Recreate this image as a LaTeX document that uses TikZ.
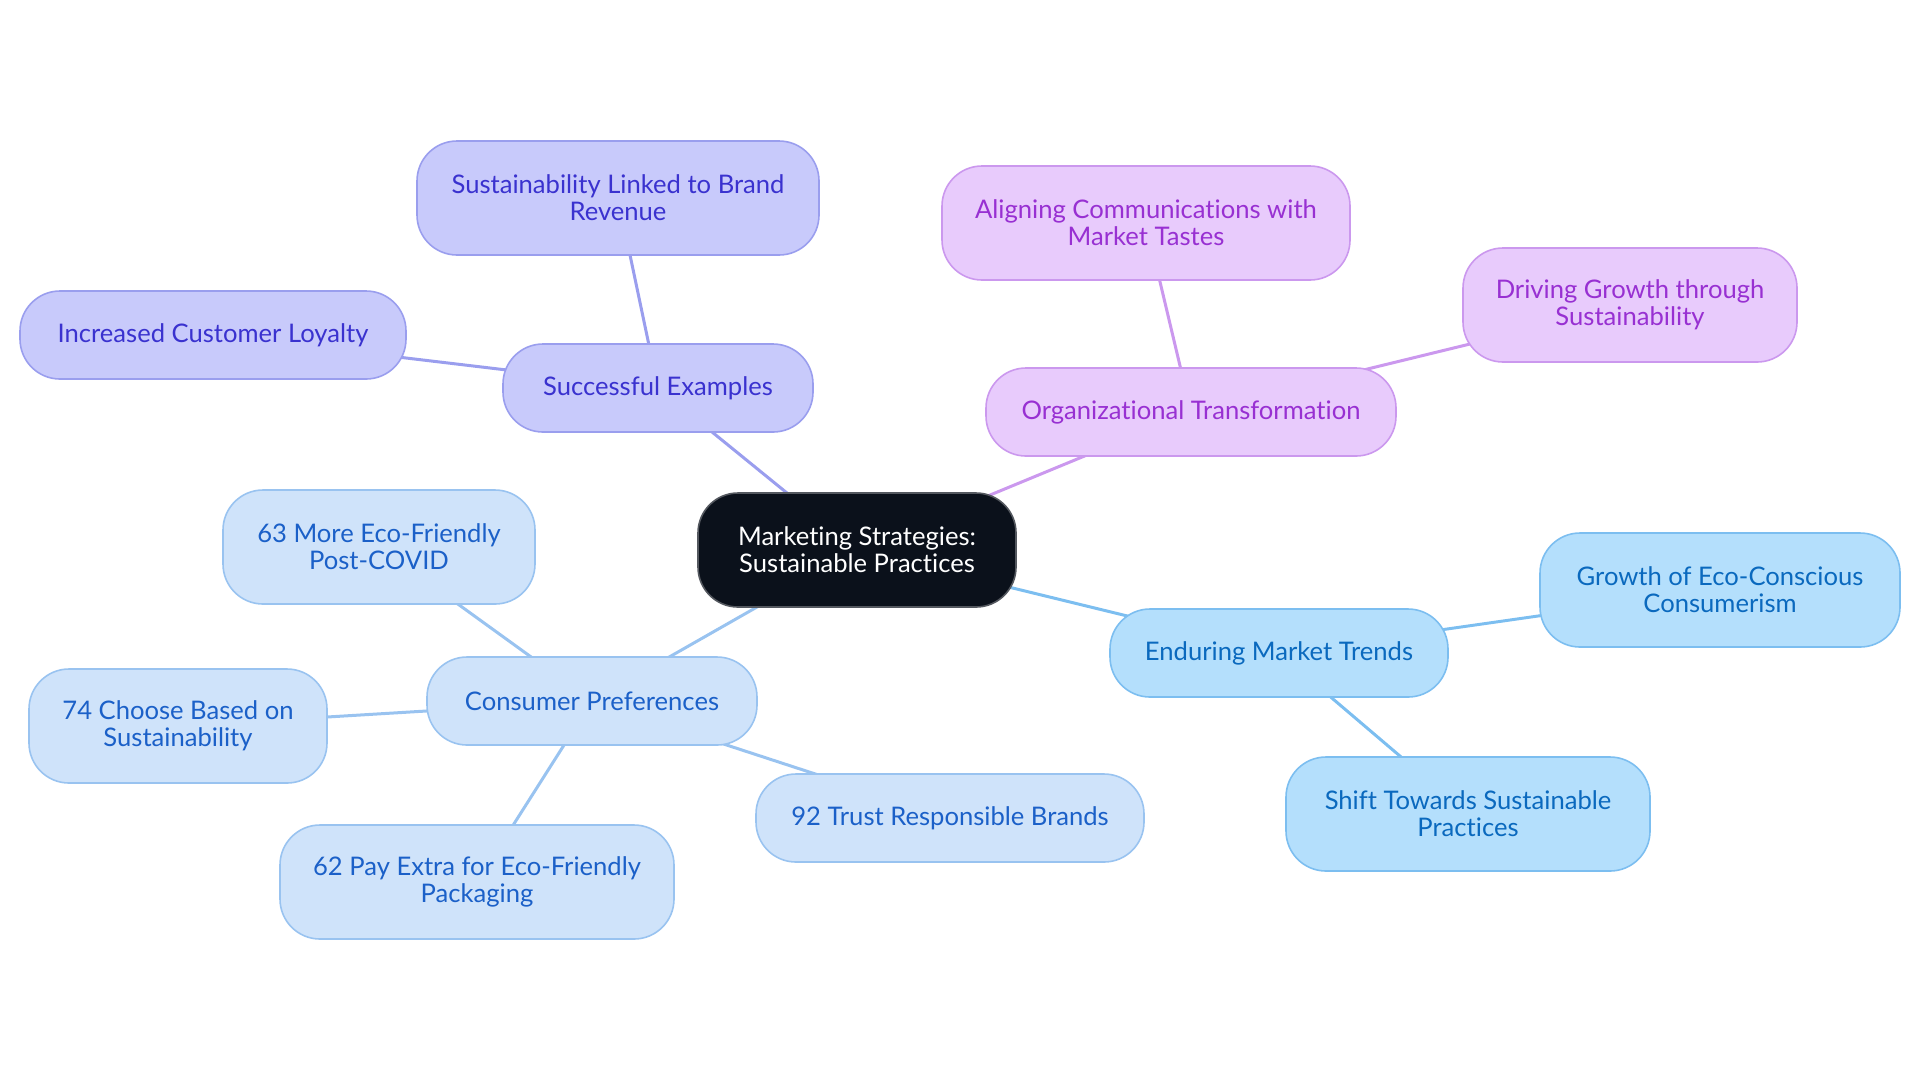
\documentclass[tikz,border=0pt]{standalone}
\usepackage{fontspec}
\setmainfont{Lato}[Ligatures={NoCommon}]
\usetikzlibrary{backgrounds}

\definecolor{rootfill}{HTML}{0B111B}
\definecolor{sucfill}{HTML}{C8CAFB}
\definecolor{sucline}{HTML}{9A9EEE}
\definecolor{suctext}{HTML}{3A32CF}
\definecolor{orgfill}{HTML}{E8CBFC}
\definecolor{orgline}{HTML}{CB98EE}
\definecolor{orgtext}{HTML}{9830D2}
\definecolor{endfill}{HTML}{B4DFFC}
\definecolor{endline}{HTML}{7CBEF0}
\definecolor{endtext}{HTML}{0A69BE}
\definecolor{conpfill}{HTML}{CFE3FA}
\definecolor{conpline}{HTML}{99C3F0}
\definecolor{conptext}{HTML}{1B60C8}

\tikzset{
    box/.style={rounded corners=20pt, line width=0.8pt, align=center,
        font=\fontsize{12.8}{13.4}\selectfont, inner sep=0pt},
    rootbox/.style={box, fill=rootfill, draw=rootfill!70!white, text=white},
    sucbox/.style={box, fill=sucfill, draw=sucline, text=suctext},
    orgbox/.style={box, fill=orgfill, draw=orgline, text=orgtext},
    endbox/.style={box, fill=endfill, draw=endline, text=endtext},
    conpbox/.style={box, fill=conpfill, draw=conpline, text=conptext},
    sucedge/.style={draw=sucline, line width=1.5pt},
    orgedge/.style={draw=orgline, line width=1.5pt},
    endedge/.style={draw=endline, line width=1.5pt},
    conpedge/.style={draw=conpline, line width=1.5pt},
}

\begin{document}
\begin{tikzpicture}[x=0.5pt, y=-0.5pt]
    \useasboundingbox (0,0) rectangle (1920,1083);

    \node[rootbox, minimum width=159pt, minimum height=57pt] (root) at (857, 550) {Marketing Strategies:\\Sustainable Practices};

    \node[sucbox, minimum width=155pt, minimum height=44pt] (suc) at (658, 388) {Successful Examples};
    \node[sucbox, minimum width=201pt, minimum height=57pt] (brand) at (618, 198) {Sustainability Linked to Brand\\Revenue};
    \node[sucbox, minimum width=193pt, minimum height=44pt] (loyal) at (213, 335) {Increased Customer Loyalty};

    \node[orgbox, minimum width=205pt, minimum height=44pt] (org) at (1191, 412) {Organizational Transformation};
    \node[orgbox, minimum width=204pt, minimum height=57pt] (align) at (1146, 223) {Aligning Communications with\\Market Tastes};
    \node[orgbox, minimum width=167pt, minimum height=57pt] (drive) at (1630, 305) {Driving Growth through\\Sustainability};

    \node[endbox, minimum width=169pt, minimum height=44pt] (trend) at (1279, 653) {Enduring Market Trends};
    \node[endbox, minimum width=180pt, minimum height=57pt] (growth) at (1720, 590) {Growth of Eco-Conscious\\Consumerism};
    \node[endbox, minimum width=182pt, minimum height=57pt] (shift) at (1468, 814) {Shift Towards Sustainable\\Practices};

    \node[conpbox, minimum width=165pt, minimum height=44pt] (conp) at (592, 701) {Consumer Preferences};
    \node[conpbox, minimum width=156pt, minimum height=57pt] (post) at (379, 547) {63 More Eco-Friendly\\Post-COVID};
    \node[conpbox, minimum width=149pt, minimum height=57pt] (choose) at (178, 726) {74 Choose Based on\\Sustainability};
    \node[conpbox, minimum width=197pt, minimum height=57pt] (pay) at (477, 882) {62 Pay Extra for Eco-Friendly\\Packaging};
    \node[conpbox, minimum width=194pt, minimum height=44pt] (trust) at (950, 818) {92 Trust Responsible Brands};

    % connectors behind the boxes
    \begin{scope}[on background layer]
        \draw[sucedge] (root.center) -- (suc.center);
        \draw[sucedge] (suc.center) -- (brand.center);
        \draw[sucedge] (suc.center) -- (loyal.center);
        \draw[orgedge] (root.center) -- (org.center);
        \draw[orgedge] (org.center) -- (align.center);
        \draw[orgedge] (org.center) -- (drive.center);
        \draw[endedge] (root.center) -- (trend.center);
        \draw[endedge] (trend.center) -- (growth.center);
        \draw[endedge] (trend.center) -- (shift.center);
        \draw[conpedge] (root.center) -- (conp.center);
        \draw[conpedge] (conp.center) -- (post.center);
        \draw[conpedge] (conp.center) -- (choose.center);
        \draw[conpedge] (conp.center) -- (pay.center);
        \draw[conpedge] (conp.center) -- (trust.center);
    \end{scope}
\end{tikzpicture}
\end{document}
